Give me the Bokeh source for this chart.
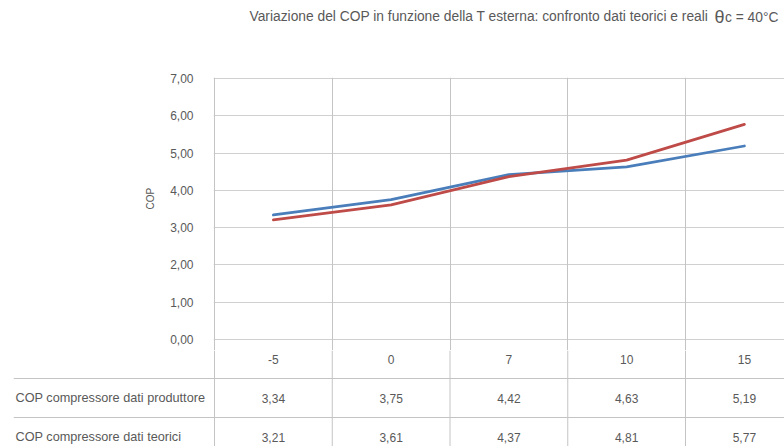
from bokeh.plotting import figure
from bokeh.models import (Range1d, FixedTicker, CustomJSTickFormatter, Span,
                          ColumnDataSource, Grid)
from bokeh.layouts import column
from bokeh.embed import file_html
from bokeh.resources import INLINE
from bokeh.core.properties import value

# ---------------- data ----------------
temps = [-5, 0, 7, 10, 15]
cop_produttore = [3.34, 3.75, 4.42, 4.63, 5.19]
cop_teorici = [3.21, 3.61, 4.37, 4.81, 5.77]
series_names = ["COP compressore dati produttore", "COP compressore dati teorici"]
y_ticks = [0, 1, 2, 3, 4, 5, 6, 7]
y_title = "COP"
title_main = "Variazione del COP in funzione della T esterna: confronto dati teorici e reali"
title_symbol = "θ"
title_tail = "c = 40°C"

# ---------------- style ----------------
FONT = "Liberation Sans"
TXT = "#595959"
GRID = "#d0d0d0"
TABLE = "#c4c4c4"
BLUE = "#4a7ebb"
RED = "#be4b48"

W = 784
CAT_PX = 117.75
Y_PX = 261 / 7.0
ROW_PX = 39.0
TITLE_H = 32
Y0_PX = 339          # pixel row of the 0,00 gridline / top of the table
SPLIT_PX = 350       # where the chart figure ends and the table figure begins

x_idx = list(range(len(temps)))
bounds = [i - 0.5 for i in x_idx]


def no_align(fig):
    try:
        fig.frame_align = False
    except Exception:
        pass


def clean(fig):
    no_align(fig)
    fig.outline_line_color = None
    fig.background_fill_color = "white"
    fig.border_fill_color = "white"


# ---------------- title strip ----------------
tt = figure(width=W, height=TITLE_H, output_backend="svg", toolbar_location=None,
            x_range=Range1d(0, W), y_range=Range1d(TITLE_H, 0),
            x_axis_location=None, y_axis_location=None,
            min_border_left=0, min_border_right=0, min_border_top=0, min_border_bottom=0)
clean(tt)
for g in list(tt.xgrid) + list(tt.ygrid):
    g.visible = False
tt.text(x=[249], y=[16], text=[title_main], text_align="left", text_baseline="middle",
        text_font=value(FONT), text_font_size="13.8px", text_color=TXT)
tt.text(x=[714], y=[16], text=[title_symbol], text_align="left", text_baseline="middle",
        text_font=value(FONT), text_font_size="18px", text_color=TXT)
tt.text(x=[724.5], y=[17], text=[title_tail], text_align="left", text_baseline="middle",
        text_font=value(FONT), text_font_size="13.8px", text_color=TXT)

# ---------------- chart ----------------
chart_left = 213
chart_top = 77 - TITLE_H
x_start = -0.5 - 1 / CAT_PX
x_end = x_start + (W - chart_left) / CAT_PX
y_start = -(SPLIT_PX - Y0_PX) / Y_PX
y_end = 7 + 1 / Y_PX

p = figure(width=W, height=SPLIT_PX - TITLE_H, output_backend="svg",
           toolbar_location=None,
           x_range=Range1d(x_start, x_end),
           y_range=Range1d(y_start, y_end),
           min_border_left=chart_left, min_border_right=0,
           min_border_top=chart_top, min_border_bottom=0,
           x_axis_location=None)
clean(p)

for g in p.xgrid:
    g.visible = False
p.add_layout(Grid(dimension=0, ticker=FixedTicker(ticks=bounds),
                  grid_line_color=TABLE, grid_line_width=1))

p.yaxis.ticker = FixedTicker(ticks=y_ticks)
p.yaxis.formatter = CustomJSTickFormatter(code="return tick.toFixed(2).replace('.', ',');")
p.yaxis.axis_line_color = None
p.yaxis.major_tick_line_color = None
p.yaxis.minor_tick_line_color = None
p.yaxis.major_tick_out = 0
p.yaxis.major_tick_in = 0
p.yaxis.major_label_standoff = 20
p.yaxis.major_label_text_font = FONT
p.yaxis.major_label_text_font_size = "12px"
p.yaxis.major_label_text_color = TXT
# leading no-break spaces lift the rotated label towards the middle of the 0..7 band
p.yaxis.axis_label = "\u00a0" * 11 + y_title
p.yaxis.axis_label_text_font = FONT
p.yaxis.axis_label_text_font_size = "10px"
p.yaxis.axis_label_text_font_style = "normal"
p.yaxis.axis_label_text_color = TXT
p.yaxis.axis_label_standoff = 11
p.ygrid.ticker = FixedTicker(ticks=y_ticks)
p.ygrid.grid_line_color = GRID
p.ygrid.grid_line_width = 1

p.line(x_idx, cop_produttore, line_color=BLUE, line_width=2.75, line_join="round", line_cap="round")
p.line(x_idx, cop_teorici, line_color=RED, line_width=2.75, line_join="round", line_cap="round")

# ---------------- data table ----------------
t_h = 446 - SPLIT_PX
t_left = 13
tx_start = x_end - (W - t_left) / CAT_PX
ty_top = -0.5 + (SPLIT_PX - Y0_PX) / ROW_PX
ty_bot = ty_top + t_h / ROW_PX

t = figure(width=W, height=t_h, output_backend="svg", toolbar_location=None,
           x_range=Range1d(tx_start, x_end), y_range=Range1d(ty_bot, ty_top),
           x_axis_location=None, y_axis_location=None,
           min_border_left=t_left, min_border_right=0, min_border_top=0, min_border_bottom=0)
clean(t)
for g in list(t.xgrid) + list(t.ygrid):
    g.visible = False

for b in bounds:
    t.add_layout(Span(location=b, dimension="height", line_color=TABLE, line_width=1))
for r in [0.5, 1.5]:
    t.add_layout(Span(location=r, dimension="width", line_color=TABLE, line_width=1))


def fmt(v):
    return f"{v:.2f}".replace(".", ",")


cells = ColumnDataSource(dict(
    x=x_idx * 3,
    y=[0] * len(temps) + [1] * len(temps) + [2] * len(temps),
    text=[str(v) for v in temps] + [fmt(v) for v in cop_produttore] + [fmt(v) for v in cop_teorici],
))
t.text(x="x", y="y", text="text", source=cells, text_align="center", text_baseline="middle",
       text_font=value(FONT), text_font_size="12px", text_color=TXT)

rows = ColumnDataSource(dict(x=[tx_start] * 2, y=[1, 2], text=series_names))
t.text(x="x", y="y", text="text", source=rows, text_align="left", text_baseline="middle",
       x_offset=2, text_font=value(FONT), text_font_size="12.7px", text_color=TXT)

layout = column(tt, p, t, spacing=0)
open("out.html", "w").write(file_html(layout, INLINE))
